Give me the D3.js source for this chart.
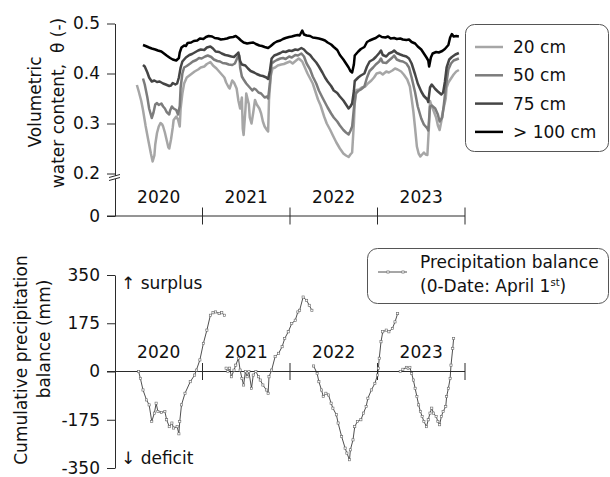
<!DOCTYPE html>
<html>
<head>
<meta charset="utf-8">
<script src="https://cdn.jsdelivr.net/npm/d3@7"></script>
<style>
  body { margin: 0; background: #fff; }
  svg { display: block; font-family: "DejaVu Sans", Verdana, sans-serif; }
</style>
</head>
<body>
<svg id="chart" width="610" height="477"></svg>
<script>
// ---- data -------------------------------------------------------------
const years = [2020, 2021, 2022, 2023];
const depthLabels = ["20 cm", "50 cm", "75 cm", "> 100 cm"];
const thetaTicks = [0, 0.2, 0.3, 0.4, 0.5];
const balanceTicks = [-350, -175, 0, 175, 350];

// volumetric water content [decimal year, theta]
const theta20 = [[2020.25,0.377],[2020.27,0.365],[2020.30,0.345],[2020.32,0.327],[2020.35,0.295],[2020.38,0.267],[2020.41,0.240],[2020.43,0.224],[2020.45,0.236],[2020.46,0.258],[2020.48,0.281],[2020.50,0.294],[2020.52,0.301],[2020.54,0.298],[2020.55,0.294],[2020.57,0.282],[2020.59,0.267],[2020.61,0.252],[2020.62,0.250],[2020.64,0.268],[2020.66,0.292],[2020.67,0.307],[2020.70,0.314],[2020.72,0.308],[2020.74,0.294],[2020.75,0.330],[2020.77,0.360],[2020.79,0.380],[2020.82,0.392],[2020.85,0.396],[2020.88,0.400],[2020.91,0.404],[2020.95,0.408],[2020.98,0.412],[2021.02,0.414],[2021.05,0.419],[2021.09,0.423],[2021.12,0.416],[2021.16,0.410],[2021.19,0.404],[2021.22,0.398],[2021.25,0.392],[2021.27,0.382],[2021.30,0.372],[2021.31,0.370],[2021.34,0.386],[2021.36,0.382],[2021.39,0.370],[2021.41,0.346],[2021.43,0.330],[2021.45,0.352],[2021.46,0.290],[2021.47,0.277],[2021.49,0.326],[2021.50,0.360],[2021.53,0.338],[2021.54,0.312],[2021.56,0.300],[2021.58,0.322],[2021.60,0.347],[2021.62,0.338],[2021.65,0.330],[2021.67,0.320],[2021.69,0.304],[2021.71,0.294],[2021.74,0.286],[2021.75,0.284],[2021.76,0.347],[2021.78,0.395],[2021.80,0.410],[2021.83,0.412],[2021.86,0.416],[2021.90,0.418],[2021.93,0.419],[2021.97,0.422],[2022.00,0.424],[2022.03,0.420],[2022.07,0.426],[2022.10,0.430],[2022.14,0.424],[2022.17,0.412],[2022.20,0.400],[2022.23,0.390],[2022.26,0.380],[2022.29,0.364],[2022.32,0.348],[2022.35,0.336],[2022.39,0.314],[2022.42,0.300],[2022.46,0.287],[2022.49,0.276],[2022.53,0.262],[2022.57,0.250],[2022.61,0.240],[2022.64,0.236],[2022.67,0.233],[2022.69,0.238],[2022.71,0.242],[2022.73,0.300],[2022.74,0.340],[2022.76,0.367],[2022.79,0.368],[2022.82,0.372],[2022.86,0.374],[2022.89,0.380],[2022.93,0.386],[2022.96,0.392],[2022.99,0.400],[2023.03,0.402],[2023.06,0.398],[2023.10,0.404],[2023.13,0.402],[2023.17,0.406],[2023.20,0.410],[2023.23,0.408],[2023.27,0.404],[2023.30,0.398],[2023.34,0.388],[2023.37,0.374],[2023.39,0.350],[2023.41,0.324],[2023.43,0.290],[2023.45,0.254],[2023.47,0.240],[2023.49,0.234],[2023.51,0.238],[2023.53,0.242],[2023.55,0.238],[2023.57,0.237],[2023.59,0.300],[2023.60,0.345],[2023.62,0.334],[2023.64,0.326],[2023.67,0.312],[2023.69,0.296],[2023.71,0.287],[2023.73,0.305],[2023.74,0.318],[2023.76,0.334],[2023.78,0.350],[2023.79,0.372],[2023.81,0.382],[2023.84,0.390],[2023.87,0.398],[2023.90,0.404],[2023.93,0.407]];

const theta50 = [[2020.32,0.390],[2020.34,0.378],[2020.37,0.352],[2020.39,0.330],[2020.42,0.311],[2020.44,0.322],[2020.46,0.338],[2020.48,0.341],[2020.50,0.337],[2020.53,0.340],[2020.55,0.334],[2020.57,0.330],[2020.59,0.323],[2020.62,0.318],[2020.63,0.326],[2020.65,0.334],[2020.67,0.330],[2020.70,0.327],[2020.72,0.318],[2020.74,0.335],[2020.75,0.372],[2020.77,0.400],[2020.79,0.412],[2020.82,0.415],[2020.86,0.420],[2020.89,0.424],[2020.93,0.427],[2020.96,0.431],[2020.99,0.430],[2021.03,0.434],[2021.06,0.436],[2021.10,0.433],[2021.13,0.428],[2021.17,0.425],[2021.20,0.424],[2021.23,0.421],[2021.27,0.420],[2021.30,0.418],[2021.34,0.417],[2021.37,0.420],[2021.40,0.432],[2021.42,0.436],[2021.43,0.412],[2021.45,0.394],[2021.47,0.388],[2021.50,0.380],[2021.52,0.376],[2021.54,0.372],[2021.57,0.366],[2021.59,0.370],[2021.61,0.368],[2021.64,0.362],[2021.67,0.360],[2021.69,0.356],[2021.71,0.352],[2021.74,0.354],[2021.75,0.350],[2021.77,0.380],[2021.79,0.420],[2021.82,0.424],[2021.85,0.427],[2021.89,0.430],[2021.92,0.431],[2021.95,0.429],[2021.99,0.434],[2022.02,0.432],[2022.06,0.437],[2022.09,0.436],[2022.13,0.440],[2022.16,0.434],[2022.19,0.420],[2022.23,0.408],[2022.26,0.394],[2022.30,0.380],[2022.33,0.366],[2022.37,0.352],[2022.40,0.342],[2022.43,0.332],[2022.47,0.320],[2022.50,0.312],[2022.54,0.304],[2022.57,0.296],[2022.61,0.287],[2022.64,0.282],[2022.67,0.278],[2022.69,0.285],[2022.71,0.294],[2022.73,0.330],[2022.75,0.360],[2022.78,0.365],[2022.81,0.368],[2022.85,0.374],[2022.88,0.392],[2022.91,0.405],[2022.95,0.412],[2022.98,0.418],[2023.02,0.424],[2023.04,0.430],[2023.06,0.422],[2023.10,0.421],[2023.13,0.426],[2023.17,0.432],[2023.19,0.436],[2023.22,0.428],[2023.26,0.425],[2023.29,0.424],[2023.33,0.420],[2023.36,0.412],[2023.39,0.392],[2023.43,0.362],[2023.46,0.334],[2023.50,0.310],[2023.53,0.298],[2023.57,0.290],[2023.58,0.286],[2023.60,0.334],[2023.62,0.336],[2023.66,0.330],[2023.69,0.318],[2023.71,0.304],[2023.74,0.312],[2023.76,0.340],[2023.78,0.372],[2023.81,0.408],[2023.84,0.420],[2023.87,0.426],[2023.93,0.430]];

const theta75 = [[2020.32,0.417],[2020.34,0.414],[2020.37,0.402],[2020.39,0.392],[2020.42,0.384],[2020.45,0.386],[2020.48,0.383],[2020.51,0.384],[2020.55,0.380],[2020.58,0.378],[2020.62,0.375],[2020.64,0.376],[2020.66,0.381],[2020.69,0.378],[2020.71,0.380],[2020.73,0.392],[2020.75,0.412],[2020.77,0.424],[2020.79,0.428],[2020.81,0.432],[2020.85,0.437],[2020.88,0.439],[2020.91,0.442],[2020.95,0.446],[2020.98,0.448],[2021.02,0.447],[2021.05,0.452],[2021.09,0.454],[2021.12,0.450],[2021.15,0.444],[2021.19,0.443],[2021.22,0.440],[2021.26,0.437],[2021.29,0.436],[2021.33,0.434],[2021.36,0.433],[2021.39,0.438],[2021.41,0.442],[2021.43,0.425],[2021.45,0.418],[2021.49,0.416],[2021.52,0.410],[2021.55,0.405],[2021.59,0.402],[2021.62,0.399],[2021.66,0.396],[2021.69,0.395],[2021.73,0.392],[2021.75,0.389],[2021.77,0.405],[2021.79,0.430],[2021.82,0.436],[2021.85,0.438],[2021.89,0.441],[2021.92,0.444],[2021.95,0.443],[2021.99,0.446],[2022.02,0.445],[2022.06,0.448],[2022.09,0.447],[2022.13,0.451],[2022.16,0.448],[2022.19,0.442],[2022.23,0.437],[2022.26,0.430],[2022.30,0.422],[2022.33,0.414],[2022.37,0.402],[2022.40,0.392],[2022.43,0.384],[2022.47,0.375],[2022.50,0.366],[2022.54,0.361],[2022.57,0.354],[2022.61,0.346],[2022.64,0.338],[2022.67,0.330],[2022.69,0.334],[2022.71,0.340],[2022.73,0.365],[2022.74,0.385],[2022.78,0.392],[2022.81,0.396],[2022.85,0.400],[2022.88,0.414],[2022.91,0.424],[2022.95,0.428],[2022.98,0.433],[2023.02,0.441],[2023.04,0.446],[2023.06,0.437],[2023.10,0.434],[2023.13,0.440],[2023.17,0.443],[2023.19,0.446],[2023.22,0.441],[2023.26,0.438],[2023.29,0.436],[2023.33,0.434],[2023.36,0.430],[2023.39,0.420],[2023.43,0.398],[2023.46,0.380],[2023.50,0.364],[2023.53,0.355],[2023.57,0.348],[2023.58,0.343],[2023.60,0.372],[2023.62,0.378],[2023.66,0.369],[2023.69,0.364],[2023.73,0.358],[2023.75,0.362],[2023.77,0.383],[2023.79,0.412],[2023.82,0.428],[2023.85,0.433],[2023.89,0.438],[2023.93,0.441]];

const theta100 = [[2020.32,0.457],[2020.35,0.455],[2020.39,0.452],[2020.42,0.450],[2020.46,0.448],[2020.49,0.446],[2020.53,0.444],[2020.56,0.440],[2020.59,0.436],[2020.63,0.431],[2020.66,0.428],[2020.70,0.426],[2020.73,0.431],[2020.74,0.442],[2020.76,0.452],[2020.79,0.456],[2020.81,0.455],[2020.83,0.461],[2020.87,0.462],[2020.90,0.465],[2020.94,0.466],[2020.97,0.470],[2021.01,0.469],[2021.04,0.473],[2021.07,0.475],[2021.11,0.474],[2021.14,0.471],[2021.18,0.470],[2021.21,0.468],[2021.25,0.469],[2021.28,0.470],[2021.31,0.472],[2021.35,0.473],[2021.38,0.475],[2021.41,0.471],[2021.44,0.466],[2021.47,0.462],[2021.51,0.460],[2021.54,0.461],[2021.58,0.462],[2021.61,0.459],[2021.65,0.456],[2021.68,0.455],[2021.71,0.453],[2021.75,0.451],[2021.78,0.455],[2021.82,0.461],[2021.85,0.464],[2021.89,0.466],[2021.92,0.469],[2021.95,0.471],[2021.99,0.473],[2022.02,0.474],[2022.06,0.476],[2022.09,0.477],[2022.11,0.476],[2022.14,0.486],[2022.16,0.478],[2022.19,0.476],[2022.23,0.475],[2022.26,0.472],[2022.30,0.471],[2022.33,0.470],[2022.37,0.468],[2022.40,0.466],[2022.43,0.462],[2022.47,0.458],[2022.50,0.453],[2022.54,0.447],[2022.57,0.437],[2022.61,0.428],[2022.64,0.420],[2022.67,0.412],[2022.69,0.405],[2022.71,0.402],[2022.73,0.418],[2022.74,0.436],[2022.78,0.444],[2022.81,0.449],[2022.85,0.453],[2022.88,0.463],[2022.91,0.466],[2022.95,0.469],[2022.98,0.471],[2023.02,0.476],[2023.05,0.473],[2023.09,0.472],[2023.12,0.474],[2023.15,0.470],[2023.19,0.471],[2023.22,0.469],[2023.26,0.470],[2023.29,0.468],[2023.33,0.467],[2023.36,0.468],[2023.39,0.463],[2023.43,0.460],[2023.46,0.454],[2023.50,0.448],[2023.53,0.440],[2023.56,0.432],[2023.58,0.426],[2023.59,0.414],[2023.61,0.432],[2023.63,0.440],[2023.67,0.443],[2023.70,0.442],[2023.74,0.445],[2023.77,0.449],[2023.81,0.457],[2023.83,0.472],[2023.85,0.479],[2023.87,0.474],[2023.90,0.475],[2023.93,0.474]];

// cumulative precipitation balance [decimal year, mm], reset every April 1st
const balance2020 = [[2020.27,0],[2020.29,-25],[2020.32,-67],[2020.36,-103],[2020.39,-121],[2020.42,-181],[2020.45,-151],[2020.47,-115],[2020.49,-145],[2020.53,-149],[2020.57,-145],[2020.59,-175],[2020.62,-200],[2020.65,-187],[2020.67,-205],[2020.71,-200],[2020.73,-226],[2020.74,-181],[2020.76,-121],[2020.80,-79],[2020.86,-37],[2020.91,-13],[2020.93,5],[2020.97,42],[2021.01,102],[2021.05,150],[2021.09,204],[2021.12,213],[2021.15,216],[2021.19,210],[2021.22,213],[2021.25,204]];
const balance2021 = [[2021.27,12],[2021.29,0],[2021.31,12],[2021.33,-19],[2021.36,5],[2021.38,23],[2021.41,48],[2021.43,5],[2021.45,-25],[2021.47,-49],[2021.49,0],[2021.51,-19],[2021.53,0],[2021.56,-61],[2021.58,-13],[2021.61,0],[2021.64,-19],[2021.66,-31],[2021.69,-49],[2021.73,-67],[2021.75,-79],[2021.76,-19],[2021.79,5],[2021.83,54],[2021.87,66],[2021.91,90],[2021.94,120],[2021.98,144],[2022.02,174],[2022.06,186],[2022.09,216],[2022.11,222],[2022.15,270],[2022.19,258],[2022.22,240],[2022.25,222]];
const balance2022 = [[2022.27,20],[2022.31,-7],[2022.33,-37],[2022.36,-67],[2022.38,-91],[2022.41,-79],[2022.44,-85],[2022.47,-115],[2022.49,-133],[2022.53,-157],[2022.55,-187],[2022.59,-236],[2022.63,-278],[2022.65,-296],[2022.68,-320],[2022.69,-284],[2022.72,-248],[2022.74,-200],[2022.77,-181],[2022.81,-175],[2022.84,-151],[2022.87,-127],[2022.89,-97],[2022.93,-67],[2022.97,-43],[2023.00,-13],[2023.01,12],[2023.02,48],[2023.04,108],[2023.06,144],[2023.10,150],[2023.13,144],[2023.17,156],[2023.20,180],[2023.23,210]];
const balance2023 = [[2023.26,0],[2023.29,8],[2023.33,15],[2023.35,12],[2023.37,15],[2023.39,-7],[2023.41,-31],[2023.43,-61],[2023.45,-91],[2023.47,-121],[2023.49,-145],[2023.51,-163],[2023.53,-181],[2023.56,-200],[2023.58,-175],[2023.60,-151],[2023.62,-133],[2023.64,-151],[2023.67,-163],[2023.69,-181],[2023.71,-193],[2023.73,-163],[2023.75,-145],[2023.78,-127],[2023.79,-91],[2023.81,-61],[2023.83,-25],[2023.84,23],[2023.86,84],[2023.87,120]];

const thetaSeries = [theta20, theta50, theta75, theta100];
const balanceSegments = [balance2020, balance2021, balance2022, balance2023];

// ---- layout ------------------------------------------------------------
const svg = d3.select("#chart");
const ink = "#2b2b2b";
const fs = 17;
const depthColors = ["#a6a6a6", "#7c7c7c", "#454545", "#000000"];

const x = d3.scaleLinear().domain([2020, 2024]).range([115, 465]);
// broken axis: 0 sits just below 0.2
const yTheta = d3.scaleLinear().domain([0, 0.2, 0.5]).range([216, 173.5, 23.5]);
const yBal = d3.scaleLinear().domain([-350, 350]).range([468, 275]);

function styleAxis(g) {
  g.selectAll("path, line").attr("stroke", ink).attr("stroke-width", 1);
  g.selectAll("text").attr("fill", "#111").attr("font-size", fs)
    .attr("font-family", "DejaVu Sans, Verdana, sans-serif");
}

// time axis with crossing ticks at each year boundary
function timeAxis(g, y0) {
  g.append("line").attr("x1", x(2020) - 8).attr("x2", x(2024)).attr("y1", y0).attr("y2", y0)
    .attr("stroke", ink).attr("stroke-width", 1);
  g.selectAll(".tk").data(years.map(v => v + 1)).join("line")
    .attr("x1", d => x(d)).attr("x2", d => x(d))
    .attr("y1", y0 - 8.5).attr("y2", y0 + 8.5)
    .attr("stroke", ink).attr("stroke-width", 1);
}

// ---- upper panel: water content ------------------------------------------
const upper = svg.append("g");

upper.append("g")
  .attr("transform", `translate(${x(2020)},0)`)
  .call(d3.axisLeft(yTheta).tickValues(thetaTicks).tickSize(8).tickSizeOuter(0).tickPadding(7)
    .tickFormat(d => d === 0 ? "0" : d3.format(".1f")(d)))
  .call(styleAxis);

// axis break marks below 0.2
const brk = upper.append("g");
brk.append("rect").attr("x", x(2020) - 4).attr("y", 176).attr("width", 8).attr("height", 3).attr("fill", "#fff");
[176, 179].forEach(yy => brk.append("line")
  .attr("x1", x(2020) - 6).attr("x2", x(2020) + 5).attr("y1", yy + 1.5).attr("y2", yy - 1.5)
  .attr("stroke", ink).attr("stroke-width", 1));

timeAxis(upper.append("g"), yTheta(0));

upper.selectAll(".yr").data(years).join("text")
  .attr("x", d => x(d + 0.5)).attr("y", 203)
  .attr("text-anchor", "middle").attr("font-size", fs).attr("fill", "#111")
  .text(d => d);

const lineTheta = d3.line().x(d => x(d[0])).y(d => yTheta(d[1]));
upper.selectAll(".theta").data(thetaSeries).join("path")
  .attr("d", lineTheta)
  .attr("fill", "none")
  .attr("stroke", (d, i) => depthColors[i])
  .attr("stroke-width", 2.5)
  .attr("stroke-linejoin", "round");

// y title
const tTitle = upper.append("g").attr("font-size", fs).attr("fill", "#111").attr("text-anchor", "middle");
tTitle.append("text").attr("transform", "translate(41,102) rotate(-90)").text("Volumetric");
tTitle.append("text").attr("transform", "translate(64,103) rotate(-90)")
  .attr("xml:space", "preserve").style("white-space", "pre").text("water content,  θ (-)");

// legend
const lg = upper.append("g");
lg.append("rect").attr("x", 465.5).attr("y", 24.5).attr("width", 143).attr("height", 127)
  .attr("rx", 9).attr("fill", "#fff").attr("stroke", "#555").attr("stroke-width", 1);
depthLabels.forEach((lab, i) => {
  const cy = 47 + i * 28.3;
  lg.append("line").attr("x1", 475).attr("x2", 503).attr("y1", cy).attr("y2", cy)
    .attr("stroke", depthColors[i]).attr("stroke-width", 2.5);
  lg.append("text").attr("x", 513).attr("y", cy + 6).attr("font-size", fs).attr("fill", "#111").text(lab);
});

// ---- lower panel: precipitation balance ------------------------------
const lower = svg.append("g");

lower.append("g")
  .attr("transform", `translate(${x(2020)},0)`)
  .call(d3.axisLeft(yBal).tickValues(balanceTicks).tickSize(8).tickSizeOuter(0).tickPadding(7)
    .tickFormat(d => String(d)))
  .call(styleAxis);

timeAxis(lower.append("g"), yBal(0));

lower.selectAll(".yr").data(years).join("text")
  .attr("x", d => x(d + 0.5)).attr("y", 358)
  .attr("text-anchor", "middle").attr("font-size", fs).attr("fill", "#111")
  .text(d => d);

lower.append("text").attr("x", 121).attr("y", 289).attr("font-size", fs).attr("fill", "#111").text("↑ surplus");
lower.append("text").attr("x", 121).attr("y", 464).attr("font-size", fs).attr("fill", "#111").text("↓ deficit");

const lineBal = d3.line().x(d => x(d[0])).y(d => yBal(d[1]));
balanceSegments.forEach(seg => {
  lower.append("path").attr("d", lineBal(seg))
    .attr("fill", "none").attr("stroke", "#222").attr("stroke-width", 0.8);
  lower.append("g").selectAll("rect").data(seg).join("rect")
    .attr("x", d => x(d[0]) - 1.1).attr("y", d => yBal(d[1]) - 1.1)
    .attr("width", 2.2).attr("height", 2.2)
    .attr("fill", "#fff").attr("stroke", "#666").attr("stroke-width", 0.6);
});

const bTitle = lower.append("g").attr("font-size", fs).attr("fill", "#111").attr("text-anchor", "middle");
bTitle.append("text").attr("transform", "translate(27,360) rotate(-90)").text("Cumulative precipitation");
bTitle.append("text").attr("transform", "translate(50,339) rotate(-90)").text("balance (mm)");

// legend
const lg2 = lower.append("g");
lg2.append("rect").attr("x", 367.5).attr("y", 248.5).attr("width", 241).attr("height", 55)
  .attr("rx", 10).attr("fill", "#fff").attr("stroke", "#555").attr("stroke-width", 1);
lg2.append("line").attr("x1", 378).attr("x2", 407).attr("y1", 272).attr("y2", 272)
  .attr("stroke", "#222").attr("stroke-width", 0.8);
[388, 403].forEach(cx => lg2.append("rect").attr("x", cx - 1.1).attr("y", 270.9)
  .attr("width", 2.2).attr("height", 2.2).attr("fill", "#fff").attr("stroke", "#666").attr("stroke-width", 0.6));
lg2.append("text").attr("x", 420).attr("y", 268).attr("font-size", fs).attr("fill", "#111").text("Precipitation balance");
const l2 = lg2.append("text").attr("x", 420).attr("y", 292).attr("font-size", fs).attr("fill", "#111");
l2.append("tspan").text("(0-Date: April 1");
l2.append("tspan").attr("font-size", 10).attr("dy", -6).text("st");
l2.append("tspan").attr("dy", 6).text(")");
</script>
</body>
</html>
